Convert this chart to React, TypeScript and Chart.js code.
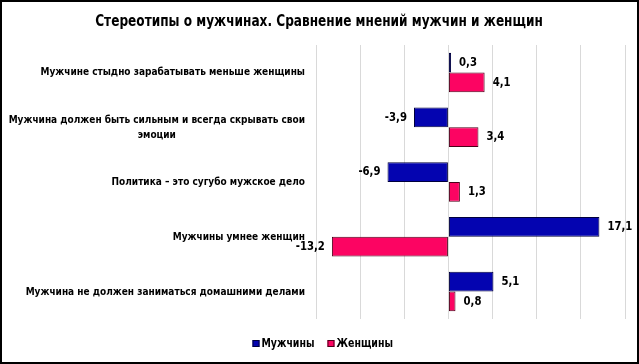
import React, { useEffect, useRef } from "react";
import { Chart, registerables } from "chart.js";

Chart.register(...registerables);

const TITLE = "Стереотипы о мужчинах. Сравнение мнений мужчин и женщин";
const CATEGORIES: string[][] = [
  ["Мужчине стыдно зарабатывать меньше женщины"],
  ["Мужчина должен быть сильным и всегда скрывать свои", "эмоции"],
  ["Политика – это сугубо мужское дело"],
  ["Мужчины умнее женщин"],
  ["Мужчина не должен заниматься домашними делами"],
];
const SERIES_NAMES = ["Мужчины", "Женщины"];
const MEN = [0.3, -3.9, -6.9, 17.1, 5.1];
const WOMEN = [4.1, 3.4, 1.3, -13.2, 0.8];
const X_MIN = -15;
const X_MAX = 20;
const X_STEP = 5;

const COLORS = ["#0404b0", "#fc0462"];
const BORDERS = ["#00003c", "#4a0018"];
const FONT = "'Liberation Sans Narrow', 'DejaVu Sans Condensed', 'Open Sans', sans-serif";
const STRETCH = 1.12;

const fmt = (v: number) => v.toFixed(1).replace(".", ",");

// choose a font size so that a reference string has the wanted width
const fitSize = (ctx: CanvasRenderingContext2D, text: string, target: number) => {
  ctx.font = `bold 20px ${FONT}`;
  const w = ctx.measureText(text).width;
  return (20 * target) / w;
};

const drawText = (ctx: CanvasRenderingContext2D, text: string, x: number, y: number) => {
  ctx.save();
  ctx.translate(x, y);
  ctx.scale(1, STRETCH);
  ctx.fillText(text, 0, 0);
  ctx.restore();
};

const customDraw = {
  id: "customDraw",
  afterDraw(chart: any) {
    const ctx = chart.ctx as CanvasRenderingContext2D;
    const yScale = chart.scales.y;
    const area = chart.chartArea;
    ctx.save();
    // title
    const titleSize = fitSize(ctx, TITLE, 448);
    ctx.fillStyle = "#000";
    ctx.font = `bold ${titleSize}px ${FONT}`;
    ctx.textAlign = "center";
    ctx.textBaseline = "middle";
    drawText(ctx, TITLE, 317, 20.5);

    // category labels
    const catSize = fitSize(ctx, CATEGORIES[0][0], 265);
    ctx.font = `bold ${catSize}px ${FONT}`;
    CATEGORIES.forEach((lines, i) => {
      const cy = yScale.getPixelForValue(i);
      const right = area.left - 11;
      const lh = 15;
      const widths = lines.map((l) => ctx.measureText(l).width);
      const maxW = Math.max(...widths);
      const center = right - maxW / 2;
      lines.forEach((l, j) => {
        const y = cy + (j - (lines.length - 1) / 2) * lh;
        ctx.textAlign = "center";
        drawText(ctx, l, center, y);
      });
    });

    // data labels
    const valSize = fitSize(ctx, "17,1", 25);
    ctx.font = `bold ${valSize}px ${FONT}`;
    chart.data.datasets.forEach((ds: any, di: number) => {
      const meta = chart.getDatasetMeta(di);
      meta.data.forEach((bar: any, i: number) => {
        const v = ds.data[i];
        const x = bar.x;
        if (v >= 0) {
          ctx.textAlign = "left";
          drawText(ctx, fmt(v), x + 8, bar.y);
        } else {
          ctx.textAlign = "right";
          drawText(ctx, fmt(v), x - 7, bar.y);
        }
      });
    });

    // legend
    const legSize = fitSize(ctx, SERIES_NAMES[0], 53);
    ctx.font = `bold ${legSize}px ${FONT}`;
    ctx.textAlign = "left";
    const ly = 341.5;
    let lx = 250.5;
    SERIES_NAMES.forEach((name, i) => {
      ctx.fillStyle = COLORS[i];
      ctx.fillRect(lx, ly - 3.5, 7, 7);
      ctx.strokeStyle = BORDERS[i];
      ctx.lineWidth = 1;
      ctx.strokeRect(lx + 0.5, ly - 3, 6, 6);
      ctx.fillStyle = "#000";
      drawText(ctx, name, lx + 9, ly);
      lx += 9 + ctx.measureText(name).width + 13;
    });
    ctx.restore();
  },
};

export default function App() {
  const ref = useRef<HTMLCanvasElement | null>(null);
  useEffect(() => {
    document.body.style.margin = "0";
    if (!ref.current) return;
    const chart = new Chart(ref.current, {
      type: "bar",
      data: {
        labels: CATEGORIES.map((c) => c.join(" ")),
        datasets: [
          {
            label: SERIES_NAMES[0],
            data: MEN,
            backgroundColor: COLORS[0],
            borderColor: BORDERS[0],
            borderWidth: 1,
            borderSkipped: false,
            categoryPercentage: 0.72,
            barPercentage: 1,
          },
          {
            label: SERIES_NAMES[1],
            data: WOMEN,
            backgroundColor: COLORS[1],
            borderColor: BORDERS[1],
            borderWidth: 1,
            borderSkipped: false,
            categoryPercentage: 0.72,
            barPercentage: 1,
          },
        ],
      },
      options: {
        indexAxis: "y",
        animation: false,
        responsive: false,
        maintainAspectRatio: false,
        layout: { padding: { top: 43, bottom: 43, left: 0, right: 12 } },
        plugins: {
          legend: { display: false },
          title: { display: false },
          tooltip: { enabled: false },
        },
        scales: {
          x: {
            min: X_MIN,
            max: X_MAX,
            ticks: { display: false, stepSize: X_STEP },
            grid: { color: "#d9d9d9", drawTicks: false, lineWidth: 1 },
            border: { display: false },
          },
          y: {
            ticks: { display: false },
            grid: { display: false, drawTicks: false },
            border: { display: false },
            afterFit: (scale: any) => {
              scale.width = 314;
            },
          },
        },
      },
      plugins: [customDraw],
    });
    return () => chart.destroy();
  }, []);
  return (
    <div
      style={{
        width: 639,
        height: 364,
        border: "2px solid #000",
        boxSizing: "border-box",
        background: "#fff",
        overflow: "hidden",
      }}
    >
      <canvas ref={ref} width={635} height={360} style={{ display: "block" }} />
    </div>
  );
}
